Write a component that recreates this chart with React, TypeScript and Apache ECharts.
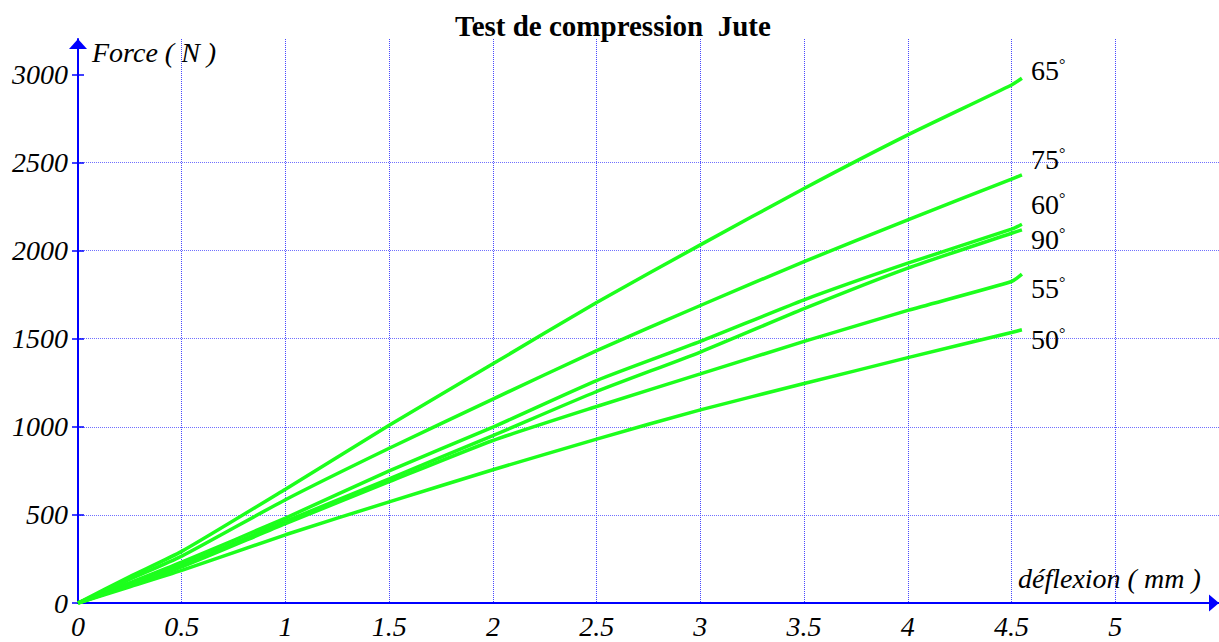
import React, { useEffect, useRef } from 'react';
import * as echarts from 'echarts';

const titleText = 'Test de compression  Jute';
const xAxisTitle = 'déflexion ( mm )';
const yAxisTitle = 'Force ( N )';

// deflexion (mm) sample positions
const deflexion = [0, 0.25, 0.5, 1, 1.5, 2, 2.5, 3, 3.5, 4, 4.5, 4.55];
// force (N) for each fibre angle
const force65 = [0, 150, 293, 646, 1008, 1357, 1705, 2032, 2352, 2656, 2939, 2977];
const force75 = [0, 135, 266, 586, 878, 1157, 1432, 1688, 1937, 2174, 2405, 2429];
const force60 = [0, 115, 232, 482, 750, 998, 1262, 1484, 1720, 1928, 2121, 2149];
const force90 = [0, 105, 215, 463, 705, 950, 1200, 1424, 1670, 1900, 2098, 2117];
const force55 = [0, 100, 205, 450, 688, 922, 1115, 1300, 1484, 1660, 1824, 1866];
const force50 = [0, 92, 185, 387, 574, 756, 930, 1096, 1245, 1392, 1535, 1550];
const angles = ['65', '75', '60', '90', '55', '50'];

const xTicks = [0, 0.5, 1, 1.5, 2, 2.5, 3, 3.5, 4, 4.5, 5];
const yTicks = [0, 500, 1000, 1500, 2000, 2500, 3000];

export default function App() {
  const ref = useRef<HTMLDivElement>(null);

  useEffect(() => {
    if (!ref.current) return;
    const chart = echarts.init(ref.current, null, { renderer: 'svg' });
    const font = 'Liberation Serif';
    const seriesData = [force65, force75, force60, force90, force55, force50];
    const labelDy = [-8, -15, -20, 10, 14, 10];
    const gridLineH = { color: '#7070ff', type: [1, 1] as any, width: 1 };
    const gridLineV = { color: '#4848ff', type: [1, 1] as any, width: 1 };
    const labelStyle = {
      fontFamily: font,
      fontStyle: 'italic' as const,
      fontSize: 28,
      color: '#000',
    };

    const series = seriesData.map((ys, i) => ({
      type: 'line' as const,
      name: angles[i] + '°',
      data: deflexion.map((x, j) => [x, ys[j]]),
      showSymbol: false,
      symbol: 'none',
      smooth: 0.2,
      lineStyle: { color: '#1cff1c', width: 3.5 },
      itemStyle: { color: '#1cff1c' },
      endLabel: {
        show: true,
        formatter: `{a|${angles[i]}}{b|°}`,
        distance: 9,
        offset: [0, labelDy[i]],
        rich: {
          a: { fontFamily: font, fontSize: 28, color: '#000' },
          b: { fontFamily: font, fontSize: 16, color: '#000', verticalAlign: 'top' },
        },
      },
      z: 3,
    }));

    chart.setOption({
      animation: false,
      backgroundColor: '#fff',
      title: {
        text: titleText,
        left: 450,
        top: 6,
        textStyle: { fontFamily: font, fontWeight: 'bold', fontSize: 29, color: '#000' },
      },
      grid: { left: 78, right: 0, top: 39, bottom: 39, containLabel: false },
      xAxis: {
        type: 'value',
        min: 0,
        max: 5.5,
        interval: 0.5,
        axisLine: {
          show: true,
          lineStyle: { color: '#0000ff', width: 2 },
          symbol: ['none', 'triangle'],
          symbolSize: [17, 10],
          symbolOffset: [0, -5],
        },
        axisTick: { show: false },
        axisLabel: { ...labelStyle, margin: 9, customValues: xTicks, formatter: (v: number) => String(v) },
        splitLine: { show: true, lineStyle: gridLineV, showMinLine: false, showMaxLine: false },
      },
      yAxis: [
        {
          type: 'value',
          min: 0,
          max: 3200,
          interval: 500,
          position: 'left',
          axisLine: {
            show: true,
            lineStyle: { color: '#0000ff', width: 2 },
            symbol: ['none', 'triangle'],
            symbolSize: [18, 10],
            symbolOffset: [0, -5],
          },
          axisTick: { show: true, length: 6, lineStyle: { color: '#0000ff', width: 1.5 }, customValues: yTicks },
          axisLabel: { ...labelStyle, margin: 10, customValues: yTicks, formatter: (v: number) => String(v) },
          splitLine: { show: true, lineStyle: gridLineH, showMinLine: false, showMaxLine: false },
        },
        {
          type: 'value',
          min: 0,
          max: 3200,
          interval: 500,
          position: 'left',
          axisLine: { show: false },
          axisTick: { show: true, inside: true, length: 6, lineStyle: { color: '#0000ff', width: 1.5 }, customValues: yTicks },
          axisLabel: { show: false },
          splitLine: { show: false },
        },
      ],
      graphic: [
        {
          type: 'text',
          left: 92,
          top: 38,
          style: { text: yAxisTitle, font: `italic 28px "${font}"`, fill: '#000' },
        },
        {
          type: 'text',
          left: 1018,
          top: 564,
          style: { text: xAxisTitle, font: `italic 28px "${font}"`, fill: '#000' },
        },
      ],
      series,
    });

    return () => chart.dispose();
  }, []);

  return (
    <div
      ref={ref}
      style={{ position: 'fixed', left: 0, top: 0, width: 1219, height: 642, background: '#fff' }}
    />
  );
}
